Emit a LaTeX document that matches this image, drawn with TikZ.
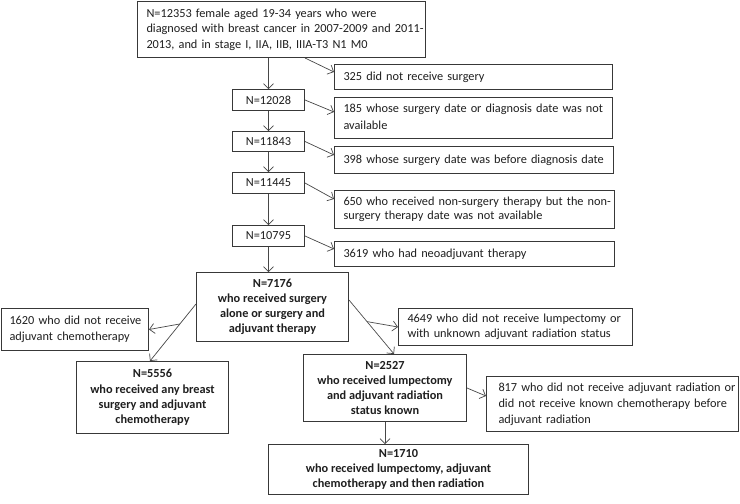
\documentclass[tikz,border=0pt]{standalone}
\usepackage{fontspec}
\setmainfont{Carlito}
\usetikzlibrary{arrows.meta,calc}
\newcommand\linesL[1]{\begin{tabular}{@{}l@{}}#1\end{tabular}}
\begin{document}
\begin{tikzpicture}[x=1pt,y=-1pt,
  box/.style={draw=black!78, line width=1pt, rectangle, anchor=north west, inner ysep=0pt, text=black!88},
  lbox/.style={box, align=left, inner xsep=9pt, font=\fontsize{12.3}{15.5}\selectfont},
  cbox/.style={box, align=center, inner xsep=4pt, font=\fontsize{12.3}{15.2}\selectfont\bfseries},
  nbox/.style={box, align=center, inner xsep=2pt, minimum width=72pt, minimum height=21pt, font=\fontsize{12.3}{15}\selectfont},
  arr/.style={draw=black!72, line width=0.7pt, -{Straight Barb[length=5pt,width=10pt]}}]
\fill[white] (0,0) rectangle (740,504);
\useasboundingbox (0,0) rectangle (740,504);
% top box
\node[lbox, minimum width=288pt, minimum height=56pt, text width=270pt] (top) at (137,1)
 {\linesL{N=12353 female aged 19-34 years who were\\diagnosed with breast cancer in 2007-2009 and 2011-\\2013, and in stage I, IIA, IIB, IIIA-T3 N1 M0}};
% left column
\node[nbox] (n1) at (232,89) {N=12028};
\node[nbox, minimum height=20pt] (n2) at (232,131) {N=11843};
\node[nbox] (n3) at (232,172) {N=11445};
\node[nbox] (n4) at (232,225) {N=10795};
% right exclusions
\node[lbox, minimum width=278pt, minimum height=25pt, text width=260pt] (r1) at (334,64) {\linesL{325 did not receive surgery}};
\node[lbox, minimum width=278pt, minimum height=41pt, text width=260pt, font=\fontsize{12.3}{17}\selectfont] (r2) at (334,97) {\linesL{185 whose surgery date or diagnosis date was not\\available}};
\node[lbox, minimum width=279pt, minimum height=27pt, text width=261pt] (r3) at (334,146) {\linesL{398 whose surgery date was before diagnosis date}};
\node[lbox, minimum width=280pt, minimum height=38pt, text width=262pt, font=\fontsize{12.3}{14.5}\selectfont] (r4) at (334,190) {\linesL{650 who received non-surgery therapy but the non-\\surgery therapy date was not available}};
\node[lbox, minimum width=280pt, minimum height=25pt, text width=262pt] (r5) at (334,241) {\linesL{3619 who had neoadjuvant therapy}};
% middle
\node[cbox, minimum width=152pt, minimum height=69pt] (n5) at (196,272) {N=7176\\who received surgery\\alone or surgery and\\adjuvant therapy};
\node[lbox, minimum width=147pt, minimum height=42pt, text width=131pt, inner xsep=8pt, font=\fontsize{12.3}{16}\selectfont] (l1) at (1,308) {\linesL{1620 who did not receive\\adjuvant chemotherapy}};
\node[cbox, minimum width=152pt, minimum height=72pt] (b1) at (76,361) {N=5556\\who received any breast\\surgery and adjuvant\\chemotherapy};
\node[lbox, minimum width=234pt, minimum height=37pt, text width=216pt, font=\fontsize{12.3}{14.5}\selectfont] (m1) at (398,308) {\linesL{4649 who did not receive lumpectomy or\\with unknown adjuvant radiation status}};
\node[cbox, minimum width=163pt, minimum height=67pt] (b2) at (303,354) {N=2527\\who received lumpectomy\\and adjuvant radiation\\status known};
\node[lbox, minimum width=252pt, minimum height=55pt, text width=228pt, inner xsep=12pt, font=\fontsize{12.3}{16}\selectfont] (m2) at (486,376) {\linesL{817 who did not receive adjuvant radiation or\\did not receive known chemotherapy before\\adjuvant radiation}};
\node[cbox, minimum width=260pt, minimum height=50pt] (b3) at (268,444) {N=1710\\who received lumpectomy, adjuvant\\chemotherapy and then radiation};
% connectors
\draw[arr] (n1.north |- top.south) -- (n1.north);
\draw[arr] ($(top.south west)+(168,0)$) -- ($(r1.north west)+(0,8)$);
\draw[arr] (n1.south) -- (n2.north);
\draw[arr] (n2.south) -- (n3.north);
\draw[arr] (n3.south) -- (n4.north);
\draw[arr] (n4.south) -- (n4.south |- n5.north);
\draw[arr] (n1.east) -- ($(r2.north west)+(0,15)$);
\draw[arr] (n2.east) -- ($(r3.north west)+(0,9)$);
\draw[arr] (n3.east) -- ($(r4.north west)+(0,9)$);
\draw[arr] (n4.east) -- ($(r5.north west)+(0,8)$);
\coordinate (ls) at ($(n5.north west)+(0,32)$);
\coordinate (le) at ($(b1.north west)+(74,0)$);
\draw[arr] (ls) -- (le);
\draw[arr] ($(ls)!0.35!(le)$) -- (l1.east);
\coordinate (rs) at ($(n5.north east)+(0,28)$);
\coordinate (re) at ($(b2.north west)+(91,0)$);
\draw[arr] (rs) -- (re);
\draw[arr] ($(rs)!0.4!(re)$) -- (m1.west);
\draw[arr] (b2.east) -- ($(m2.north west)+(0,20)$);
\draw[arr] (b2.south) -- (b2.south |- b3.north);
\end{tikzpicture}
\end{document}
